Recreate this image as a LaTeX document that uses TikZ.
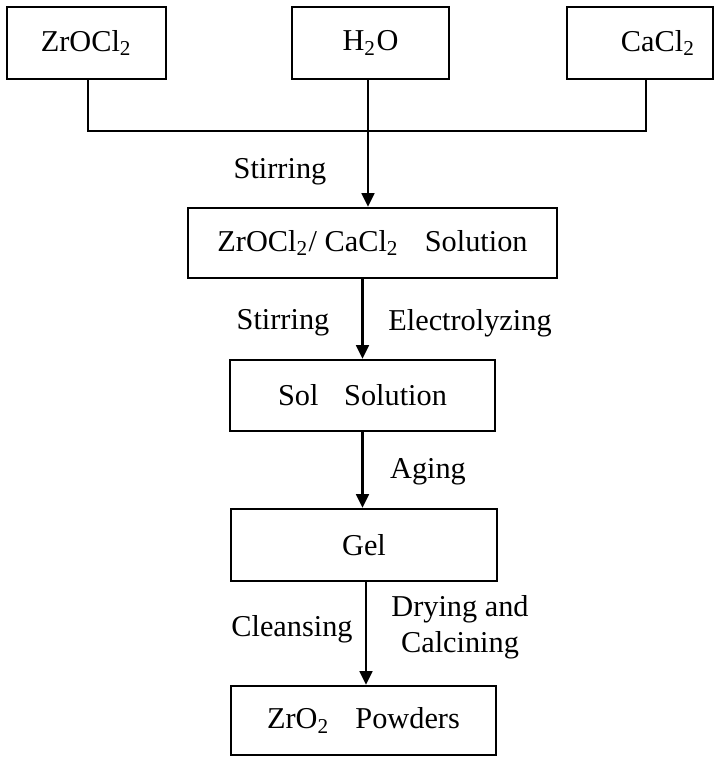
\documentclass[tikz,border=0pt]{standalone}
\usepackage{fontspec}
\setmainfont{Liberation Serif}
\usetikzlibrary{arrows.meta}

\begin{document}
\begin{tikzpicture}[x=0.33pt,y=-0.33pt,line width=0.75pt,
  stepbox/.style n args={2}{draw,rectangle,inner sep=0pt,minimum width=#1*0.33pt,minimum height=#2*0.33pt},
  wire/.style={draw},
  flow/.style={draw,-{Triangle[length=4.5pt,width=4.2pt]}},
  lbl/.style={inner sep=0pt,align=center}]
\useasboundingbox (0,0) rectangle (714,757);
\foreach \n/\x/\w/\t in %
{zr/86.5/159/ZrOCl\textsubscript{2},h2o/370.5/157/H\textsubscript{2}O,ca/640/146/\hspace{12pt}CaCl\textsubscript{2}} {
   \node[stepbox={\w}{72}] (\n) at (\x,43) {\raisebox{-2pt}{\t}};
}
   \coordinate (bus) at (0,131);
   \node[stepbox={369}{70}] (mix) at (372.5,243) {ZrOCl\textsubscript{2}/ CaCl\textsubscript{2}\hspace{0.6em} Solution\hspace{8pt}};
   \node[stepbox={265}{71}] (sol) at (362.5,395.5) {Sol\hspace{0.6em} Solution};
   \node[stepbox={266}{72}] (gel) at (364,545) {Gel};
   \node[stepbox={265}{69}] (pow) at (363.5,720.5) {ZrO\textsubscript{2}\hspace{0.6em} Powders};
   \draw[wire] (zr.south) -- (zr.south -| 88,0) |- (bus -| 646,0) -- (ca.south -| 646,0);
   \draw[flow] (h2o.south -| 368,0) -- (mix.north -| 368,0);
   \draw[flow] (sol.north |- mix.south) -- (sol.north);
   \draw[flow] (sol.south) -- (sol.south |- gel.north);
   \draw[flow] (gel.south -| 366,0) -- (pow.north -| 366,0);
   \node[lbl] (s1) at (280,172) {Stirring};
   \node[lbl] (s2) at (283,323) {Stirring};
   \node[lbl] (el) at (470,323) {Electrolyzing};
   \node[lbl] (ag) at (428,472) {Aging};
   \node[lbl] (cl) at (292,629) {Cleansing};
   \node[lbl] (dc) at (460,627) {Drying and\\Calcining};
\end{tikzpicture}
\end{document}
